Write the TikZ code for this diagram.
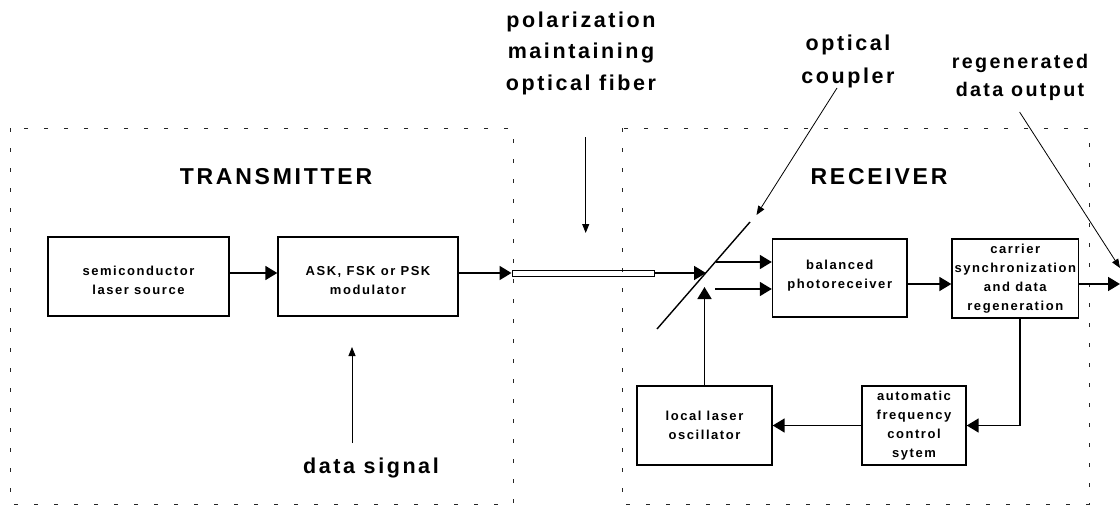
\documentclass[tikz,border=0pt]{standalone}
\usepackage{fontspec}
\usetikzlibrary{arrows.meta,calc}
\newfontfamily\labfont{Liberation Sans}[LetterSpace=12]
\tikzset{
  blk/.style={draw, line width=1.4pt, inner sep=0pt, align=center,
    font=\labfont\bfseries\fontsize{13}{19}\selectfont},
  conn/.style={line width=1.8pt, -{Triangle[length=12pt,width=14pt]}},
  ptr/.style={line width=0.8pt, -{Triangle[length=9pt,width=7pt]}},
  region/.style={draw=black!85, line width=0.8pt, dash pattern=on 4pt off 16pt},
  bigtxt/.style={inner sep=0pt, align=center, font=\labfont\bfseries\fontsize{21.5}{31.5}\selectfont},
  ttl/.style={inner sep=0pt, font=\labfont\bfseries\fontsize{23}{26}\selectfont}
}
\begin{document}
\begin{tikzpicture}[x=1pt,y=-1pt]
\useasboundingbox (0,0) rectangle (1120,506);
% regions
\draw[region] (10,128) rectangle (513,504);
\draw[region] (622,128) rectangle (1089,504);
\node[ttl] (ttx) at (276,177) {TRANSMITTER};
\node[ttl] (trx) at (879,177) {RECEIVER};
% blocks
\node[blk, minimum width=181pt, minimum height=79pt] (semi) at (138.5,276.5) {\rule{0pt}{17pt}semiconductor\\laser source};
\node[blk, minimum width=180pt, minimum height=79pt] (ask) at (368,276.5) {\rule{0pt}{18pt}ASK, FSK or PSK\\modulator};
\node[draw, line width=1pt, inner sep=0pt, minimum width=142pt, minimum height=6pt] (fiber) at (583,273) {};
\node[blk, minimum width=134.5pt, minimum height=78pt] (bal) at (839.75,278) {balanced\\photoreceiver\rule[-7.5pt]{0pt}{7.5pt}};
\node[blk, minimum width=126.5pt, minimum height=79pt] (car) at (1015.3,278.5) {carrier\\synchronization\\and data\\regeneration};
\node[blk, minimum width=135pt, minimum height=79pt] (lo) at (704.5,425.5) {local laser\\oscillator};
\node[blk, minimum width=104pt, minimum height=79pt] (afc) at (914,425.5) {automatic\\frequency\\control\\sytem};
% coupler
\coordinate (cpA) at (750,222);
\coordinate (cpB) at (657,329);
\draw[line width=1.4pt] (cpA) -- (cpB);
\coordinate (cin) at (706,273);
\coordinate (cout1) at (716,262);
\coordinate (cout2) at (715,289);
\coordinate (loin) at (704.5,287);
\coordinate (out) at (1120,284);
% connectors
\draw[conn] ([yshift=3.5pt]semi.east) -- ([yshift=3.5pt]ask.west);
\draw[conn] ([yshift=3.5pt]ask.east) -- (fiber.west);
\draw[conn] (fiber.east) -- (cin);
\draw[conn] (cout1) -- (cout1 -| bal.west);
\draw[conn] (cout2) -- (cout2 -| bal.west);
\draw[conn] (lo.north) -- (loin);
\draw[conn] ([yshift=-6pt]bal.east) -- ([yshift=-5.5pt]car.west);
\draw[conn] ([yshift=-5.5pt]car.east) -- (out);
\draw[conn] ([xshift=4.7pt]car.south) |- (afc.east);
\draw[conn] (afc.west) -- (lo.east);
% labels
\node[bigtxt, anchor=base] (dsig) at (371,473) {data signal};
\node[bigtxt, anchor=north] (pmf) at (581,11.3) {polarization\\maintaining\\optical fiber};
\node[bigtxt, anchor=north, font=\labfont\bfseries\fontsize{21.5}{33}\selectfont] (ocp) at (848,34.3) {optical\\coupler};
\node[bigtxt, anchor=north, font=\labfont\bfseries\fontsize{19.7}{28.5}\selectfont] (rdo) at (1020,54) {regenerated\\data output};
% pointers
\coordinate (dsA) at (352,443);
\coordinate (dsB) at (352,347);
\draw[ptr] (dsA) -- (dsB);
\coordinate (pfA) at (585.7,137);
\coordinate (pfB) at (585.7,233);
\draw[ptr] (pfA) -- (pfB);
\coordinate (ocA) at (837,88);
\coordinate (ocB) at (756.5,215);
\draw[ptr] (ocA) -- (ocB);
\coordinate (rdA) at (1019.6,112);
\coordinate (rdB) at (1120,268);
\draw[ptr] (rdA) -- (rdB);
\end{tikzpicture}
\end{document}
